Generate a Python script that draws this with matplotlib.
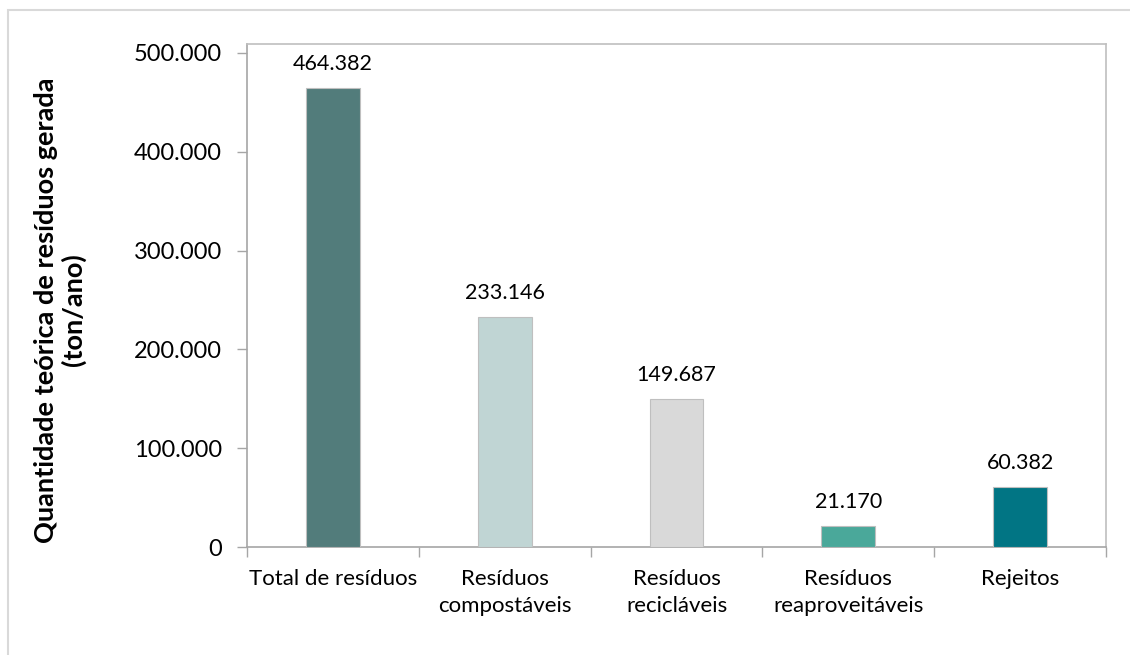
import matplotlib
matplotlib.use("Agg")
import matplotlib.pyplot as plt
from matplotlib.patches import Rectangle
from matplotlib.ticker import FuncFormatter, FixedLocator

categories = ["Total de resíduos", "Resíduos\ncompostáveis", "Resíduos\nrecicláveis",
              "Resíduos\nreaproveitáveis", "Rejeitos"]
values = [464382, 233146, 149687, 21170, 60382]
colors = ["#527C7B", "#C0D5D4", "#D9D9D9", "#4AA89A", "#017584"]
yticks = [0, 100000, 200000, 300000, 400000, 500000]
ylabel = "Quantidade teórica de resíduos gerada\n(ton/ano)"

def fmt(v):
    return f"{int(v):,}".replace(",", ".")

plt.rcParams['font.family'] = ['Lato', 'DejaVu Sans']

fig = plt.figure(figsize=(11.3, 6.55), dpi=100)
ax = fig.add_axes([247/1130, 1-547/655, (1106-247)/1130, (547-44)/655])

x = list(range(len(categories)))
bars = ax.bar(x, values, width=0.314, color=colors, edgecolor="#BFBFBF", linewidth=0.8, zorder=3)
for xi, v in zip(x, values):
    ax.annotate(fmt(v), (xi, v), xytext=(0, 10), textcoords="offset points",
                ha="center", va="bottom", fontsize=15.5, color="#000000")

ax.set_xlim(-0.5, len(categories) - 0.5)
ax.set_ylim(0, 509100)
ax.yaxis.set_major_locator(FixedLocator(yticks))
ax.yaxis.set_major_formatter(FuncFormatter(lambda v, p: fmt(v)))
ax.set_xticks(x)
ax.set_xticklabels(categories, fontsize=16, linespacing=1.4)
ax.set_xticks([i - 0.5 for i in range(len(categories) + 1)], minor=True)
ax.tick_params(axis="x", which="major", length=0, pad=16)
ax.tick_params(axis="x", which="minor", length=7, color="#A6A6A6", width=1)
ax.tick_params(axis="y", labelsize=17, length=7, color="#A6A6A6", width=1, pad=11)

for s in ["left", "bottom"]:
    ax.spines[s].set_color("#A6A6A6")
    ax.spines[s].set_linewidth(1.2)
for s in ["top", "right"]:
    ax.spines[s].set_color("#BFBFBF")
    ax.spines[s].set_linewidth(1.2)

fig.text(60/1130, 1 - 310/655, ylabel, rotation=90, ha="center", va="center",
         fontsize=19.5, fontweight="bold", linespacing=1.1, multialignment="center")

fig.patches.append(Rectangle((8/1130, -0.05), 1.1, 1 - 10/655 + 0.05,
                             transform=fig.transFigure, fill=False,
                             edgecolor="#D9D9D9", linewidth=1.5))

fig.savefig("out.png", dpi=100, facecolor="white")
